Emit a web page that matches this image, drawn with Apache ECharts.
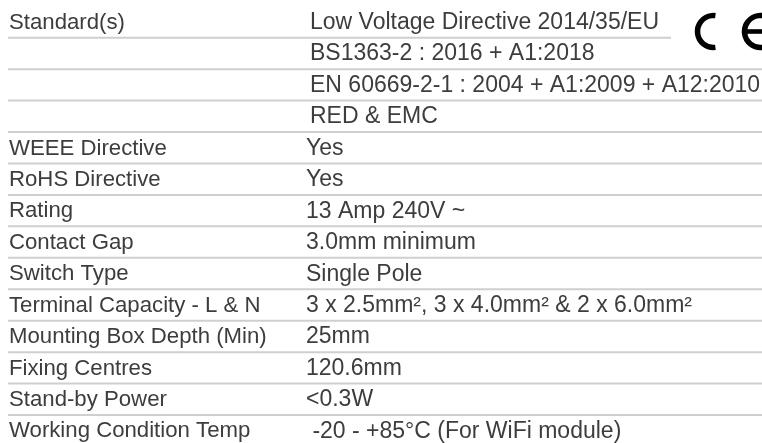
<!DOCTYPE html>
<html>
<head>
<meta charset="utf-8">
<script src="https://cdn.jsdelivr.net/npm/echarts@6/dist/echarts.min.js"></script>
<style>html,body{margin:0;padding:0;background:#fff;}#main{width:762px;height:443px;}</style>
</head>
<body>
<div id="main"></div>
<script>
// Standards group (values indented slightly in the original)
const standardLabels = ['Standard(s)', '', '', ''];
const standardValues = [
  'Low Voltage Directive 2014/35/EU',
  'BS1363-2 : 2016 + A1:2018',
  'EN 60669-2-1 : 2004 + A1:2009 + A12:2010',
  'RED & EMC'
];
// Specification rows
const specLabels = [
  'WEEE Directive', 'RoHS Directive', 'Rating', 'Contact Gap', 'Switch Type',
  'Terminal Capacity - L & N', 'Mounting Box Depth (Min)', 'Fixing Centres',
  'Stand-by Power', 'Working Condition Temp'
];
const specValues = [
  'Yes', 'Yes', '13 Amp 240V ~', '3.0mm minimum', 'Single Pole',
  '3 x 2.5mm\u00B2, 3 x 4.0mm\u00B2 & 2 x 6.0mm\u00B2', '25mm', '120.6mm',
  '<0.3W', ' -20 - +85\u00B0C (For WiFi module)'
];

const labels = standardLabels.concat(specLabels);
const values = standardValues.concat(specValues);
const rowIndex = labels.map((_, i) => i);

const TEXT = '#3d3d3d';
const LINE = '#cfcfcf';
const FONT = 'Liberation Sans, Arial, Helvetica, sans-serif';

const chart = echarts.init(document.getElementById('main'));
chart.setOption({
  backgroundColor: '#ffffff',
  animation: false,
  grid: { left: 0, right: 0, top: 0, bottom: 0 },
  xAxis: { type: 'value', min: 0, max: 762, show: false },
  yAxis: { type: 'value', min: -0.2, max: 13.89, inverse: true, show: false },
  series: [{
    type: 'custom',
    data: rowIndex,
    encode: { y: 0 },
    renderItem: function (params, api) {
      const i = params.dataIndex;
      const mid = api.coord([0, i + 0.52]);
      const bot = api.coord([0, i + 1]);
      const labelX = api.coord([9, 0])[0];
      const valueX = api.coord([i < standardValues.length ? 310 : 306, 0])[0];
      const lineStart = api.coord([8, 0])[0];
      const lineEnd = api.coord([i === 0 ? 671 : 762, 0])[0];
      const children = [
        { type: 'text', style: { text: labels[i], x: labelX, y: mid[1], fill: TEXT, fontSize: 22.2, fontFamily: FONT, verticalAlign: 'middle', align: 'left' } },
        { type: 'text', style: { text: values[i], x: valueX, y: mid[1], fill: TEXT, fontSize: 23, fontFamily: FONT, verticalAlign: 'middle', align: 'left' } }
      ];
      if (i < labels.length - 1) {
        children.push({ type: 'line', shape: { x1: lineStart, y1: bot[1], x2: lineEnd, y2: bot[1] }, style: { stroke: LINE, lineWidth: 2 } });
      }
      return { type: 'group', children: children };
    }
  }],
  graphic: [
    { type: 'arc', shape: { cx: 713.5, cy: 31.5, r: 16, startAngle: Math.PI / 2 - 0.12, endAngle: Math.PI * 1.5 + 0.12, clockwise: true }, style: { stroke: '#000', fill: null, lineWidth: 5.5 } },
    { type: 'arc', shape: { cx: 760.5, cy: 31.5, r: 16, startAngle: Math.PI / 2 - 0.12, endAngle: Math.PI * 1.5 + 0.12, clockwise: true }, style: { stroke: '#000', fill: null, lineWidth: 5.5 } },
    { type: 'rect', shape: { x: 746, y: 29.2, width: 16, height: 4.6 }, style: { fill: '#000' } }
  ]
});
</script>
</body>
</html>
